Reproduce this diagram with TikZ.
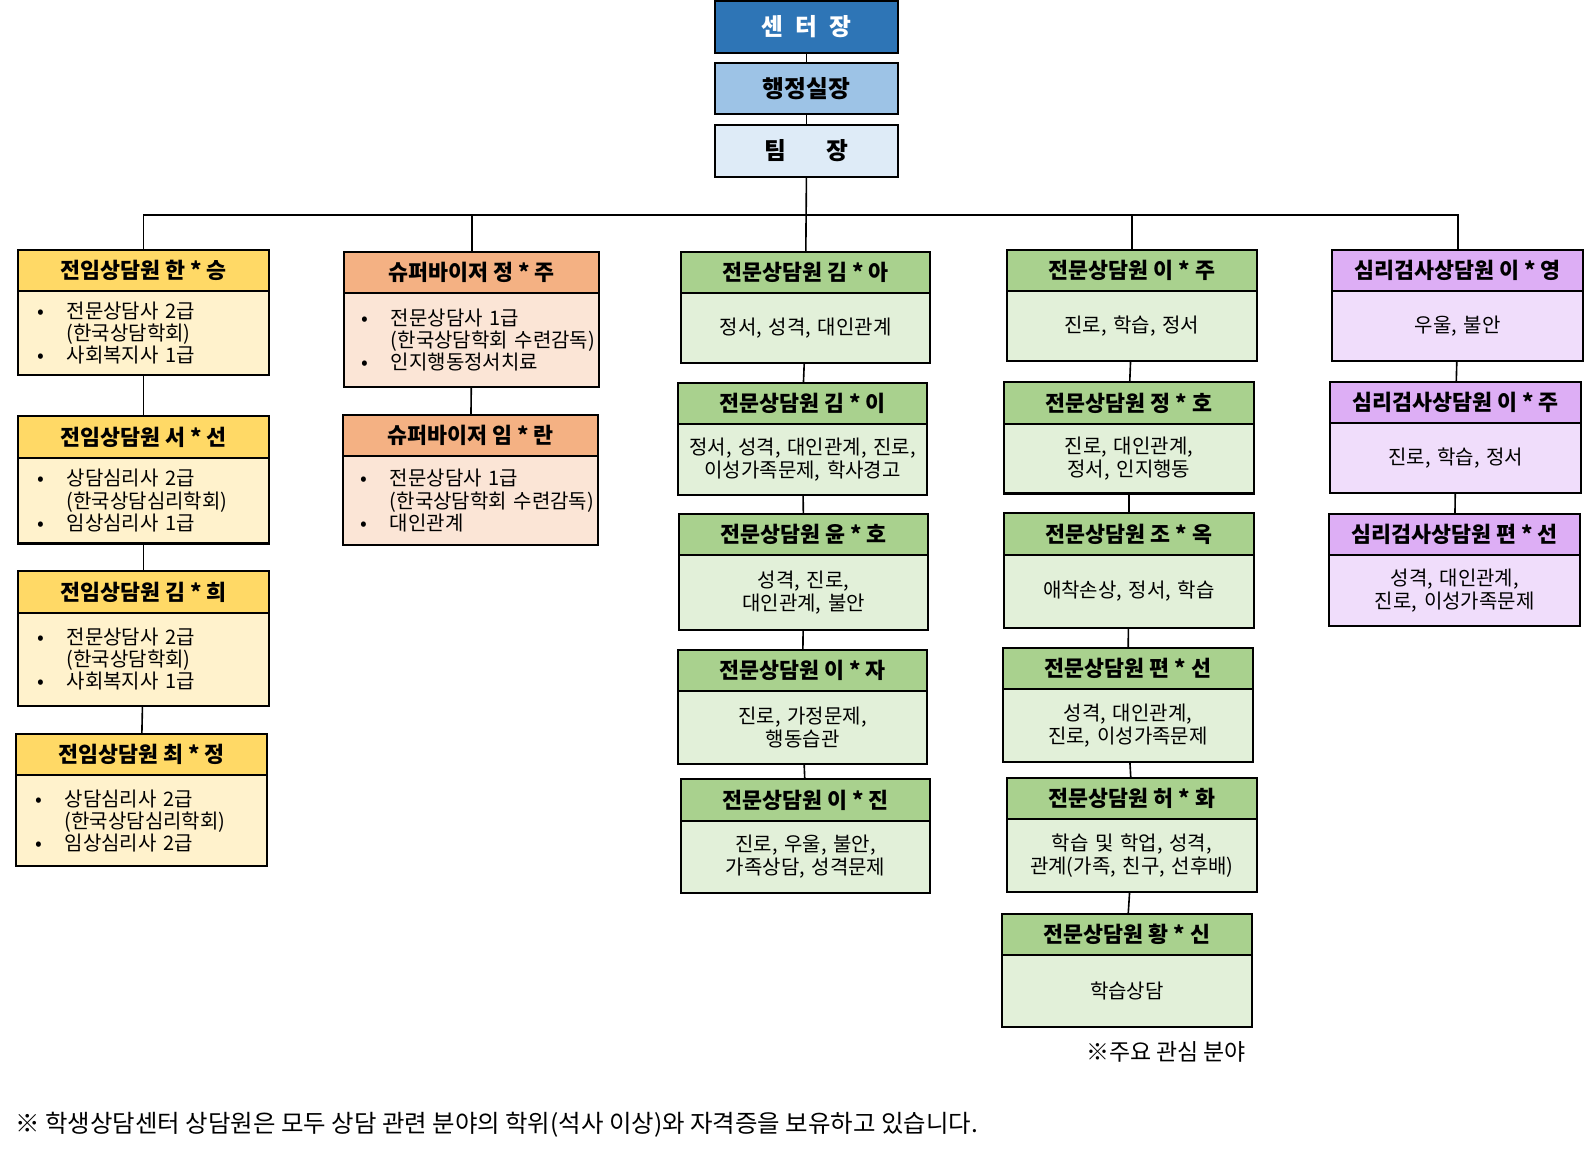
\documentclass[tikz,border=0pt]{standalone}
\usepackage{fontspec}
\setmainfont{Noto Sans CJK KR}
\usetikzlibrary{positioning}

\definecolor{bossblue}{HTML}{2E75B6}
\definecolor{adminblue}{HTML}{9DC3E6}
\definecolor{teamblue}{HTML}{DEEBF7}
\definecolor{yellowA}{HTML}{FFD966}
\definecolor{yellowB}{HTML}{FFF2CC}
\definecolor{orangeA}{HTML}{F4B183}
\definecolor{orangeB}{HTML}{FBE5D6}
\definecolor{greenA}{HTML}{A9D18E}
\definecolor{greenB}{HTML}{E2F0D9}
\definecolor{purpleA}{HTML}{DDAEF5}
\definecolor{purpleB}{HTML}{F0DDFB}

\newcommand{\listdot}{\makebox[29pt][l]{•}}
\newcommand{\listgap}{\hspace*{29pt}}

\tikzset{
  box/.style={draw, line width=2pt, outer sep=0pt, inner sep=0pt},
  topbox/.style={box, minimum width=181pt, minimum height=51pt,
    font=\bfseries\fontsize{23.5}{27}\selectfont},
  headbox/.style={box, minimum width=248pt, minimum height=41pt,
    font=\bfseries\fontsize{21.5}{25}\selectfont},
  areabox/.style={box, text width=240pt, inner xsep=4pt, align=center,
    font=\fontsize{19.8}{23}\selectfont},
  listbox/.style={box, text width=210pt, inner xsep=19pt, align=left,
    font=\fontsize{19.8}{22}\selectfont},
  fullhead/.style={headbox, fill=yellowA},
  fullbody/.style={listbox, fill=yellowB},
  superhead/.style={headbox, fill=orangeA, minimum width=252pt},
  superbody/.style={listbox, fill=orangeB, text width=218pt, inner xsep=17pt},
  prohead/.style={headbox, fill=greenA, minimum width=247pt},
  probody/.style={areabox, fill=greenB, text width=239pt},
  testhead/.style={headbox, fill=purpleA},
  testbody/.style={areabox, fill=purpleB},
  link/.style={line width=1.6pt}
}

\begin{document}
\begin{tikzpicture}[x=1pt,y=-1pt]
  \useasboundingbox (0,0) rectangle (1568,1144);

  % top of the centre
  \node[topbox, fill=bossblue, text=white] (boss) at (798.5,26.5) {센\hspace{12pt}터\hspace{12pt}장};
  \node[topbox, fill=adminblue] (admin) at (798.5,87.5) {행정실장};
  \node[topbox, fill=teamblue] (team) at (798.5,149.5) {팀\hspace{40pt}장};

  % full-time counsellors
  \node[fullhead] (hanH) at (142,267.5) {전임상담원 한 * 승};
  \node[fullbody, minimum height=83pt, below=0pt of hanH] (hanB)
    {\listdot 전문상담사 2급\\ \listgap (한국상담학회)\\ \listdot 사회복지사 1급};
  \node[fullhead] (seoH) at (142,432.5) {전임상담원 서 * 선};
  \node[fullbody, minimum height=85pt, below=0pt of seoH] (seoB)
    {\listdot 상담심리사 2급\\ \listgap (한국상담심리학회)\\ \listdot 임상심리사 1급};
  \node[fullhead] (kimHH) at (142,586) {전임상담원 김 * 희};
  \node[fullbody, minimum height=92pt, below=0pt of kimHH] (kimHB)
    {\listdot 전문상담사 2급\\ \listgap (한국상담학회)\\ \listdot 사회복지사 1급};
  \node[fullhead] (choiH) at (140,747) {전임상담원 최 * 정};
  \node[fullbody, minimum height=90pt, below=0pt of choiH] (choiB)
    {\listdot 상담심리사 2급\\ \listgap (한국상담심리학회)\\ \listdot 임상심리사 2급};

  % supervisors
  \node[superhead] (jeongJH) at (467,269.5) {슈퍼바이저 정 * 주};
  \node[superbody, minimum height=93pt, below=0pt of jeongJH] (jeongJB)
    {\listdot 전문상담사 1급\\ \listgap (한국상담학회~수련감독)\\ \listdot 인지행동정서치료};
  \node[superhead] (limH) at (466,431) {슈퍼바이저 임 * 란};
  \node[superbody, minimum height=88pt, below=0pt of limH] (limB)
    {\listdot 전문상담사 1급\\ \listgap (한국상담학회~수련감독)\\ \listdot 대인관계};

  % counsellors, first row
  \node[prohead] (kimAH) at (797.5,269.5) {전문상담원 김 * 아};
  \node[probody, minimum height=69pt, below=0pt of kimAH] (kimAB) {정서, 성격, 대인관계};
  \node[prohead] (kimIH) at (794.5,399.5) {전문상담원 김 * 이};
  \node[probody, minimum height=70pt, below=0pt of kimIH] (kimIB) {정서, 성격, 대인관계, 진로,\\이성가족문제, 학사경고};
  \node[prohead] (yunH) at (795.5,529) {전문상담원 윤 * 호};
  \node[probody, minimum height=74pt, below=0pt of yunH] (yunB) {성격, 진로,\\대인관계, 불안};
  \node[prohead] (leeJaH) at (794.5,663.5) {전문상담원 이 * 자};
  \node[probody, minimum height=72pt, below=0pt of leeJaH] (leeJaB) {진로, 가정문제,\\행동습관};
  \node[prohead] (leeJinH) at (797.5,792) {전문상담원 이 * 진};
  \node[probody, minimum height=71pt, below=0pt of leeJinH] (leeJinB) {진로, 우울, 불안,\\가족상담, 성격문제};

  % counsellors, second row
  \node[prohead] (leeJuH) at (1120.5,268) {전문상담원 이 * 주};
  \node[probody, minimum height=69pt, below=0pt of leeJuH] (leeJuB) {진로, 학습, 정서};
  \node[prohead] (jeongHoH) at (1117.5,399) {전문상담원 정 * 호};
  \node[probody, minimum height=69pt, below=0pt of jeongHoH] (jeongHoB) {진로, 대인관계,\\정서, 인지행동};
  \node[prohead] (joH) at (1117.5,528.5) {전문상담원 조 * 옥};
  \node[probody, minimum height=73pt, below=0pt of joH] (joB) {애착손상, 정서, 학습};
  \node[prohead] (pyeonH) at (1116.5,662) {전문상담원 편 * 선};
  \node[probody, minimum height=72pt, below=0pt of pyeonH] (pyeonB) {성격, 대인관계,\\진로, 이성가족문제};
  \node[prohead] (heoH) at (1120.5,790.5) {전문상담원 허 * 화};
  \node[probody, minimum height=72pt, below=0pt of heoH] (heoB) {학습 및 학업, 성격,\\관계(가족, 친구, 선후배)};
  \node[prohead] (hwangH) at (1115.5,925) {전문상담원 황 * 신};
  \node[probody, minimum height=71pt, below=0pt of hwangH] (hwangB) {학습상담};

  % psychological testing
  \node[testhead] (leeYH) at (1443,268) {심리검사상담원 이 * 영};
  \node[testbody, minimum height=69pt, below=0pt of leeYH] (leeYB) {우울, 불안};
  \node[testhead] (leeJu2H) at (1441,398.5) {심리검사상담원 이 * 주};
  \node[testbody, minimum height=69pt, below=0pt of leeJu2H] (leeJu2B) {진로, 학습, 정서};
  \node[testhead] (pyeon2H) at (1440,529) {심리검사상담원 편 * 선};
  \node[testbody, minimum height=70pt, below=0pt of pyeon2H] (pyeon2B) {성격, 대인관계,\\진로, 이성가족문제};

  \node[anchor=west, inner sep=0pt, font=\fontsize{22.7}{26}\selectfont] (note) at (1075,1041) {※주요 관심 분야};
  \node[anchor=west, inner sep=0pt, font=\fontsize{24.2}{28}\selectfont] (footer) at (15,1113)
    {※ 학생상담센터 상담원은 모두 상담 관련 분야의 학위(석사 이상)와 자격증을 보유하고 있습니다.};

  % connectors
  \coordinate (bus) at (805,213);
  \draw[link] (boss) -- (admin);
  \draw[link] (admin) -- (team);
  \draw[link] (team) -- (kimAH);
  \draw[link] (hanH) |- (bus) -| (leeYH);
  \draw[link] (jeongJH) -- (jeongJH |- bus);
  \draw[link] (leeJuH) -- (leeJuH |- bus);
  \draw[link] (hanB) -- (seoH);
  \draw[link] (seoB) -- (kimHH);
  \draw[link] (kimHB) -- (choiH);
  \draw[link] (jeongJB) -- (limH);
  \draw[link] (kimAB) -- (kimIH);
  \draw[link] (kimIB) -- (yunH);
  \draw[link] (yunB) -- (leeJaH);
  \draw[link] (leeJaB) -- (leeJinH);
  \draw[link] (leeJuB) -- (jeongHoH);
  \draw[link] (jeongHoB) -- (joH);
  \draw[link] (joB) -- (pyeonH);
  \draw[link] (pyeonB) -- (heoH);
  \draw[link] (heoB) -- (hwangH);
  \draw[link] (leeYB) -- (leeJu2H);
  \draw[link] (leeJu2B) -- (pyeon2H);
\end{tikzpicture}
\end{document}
